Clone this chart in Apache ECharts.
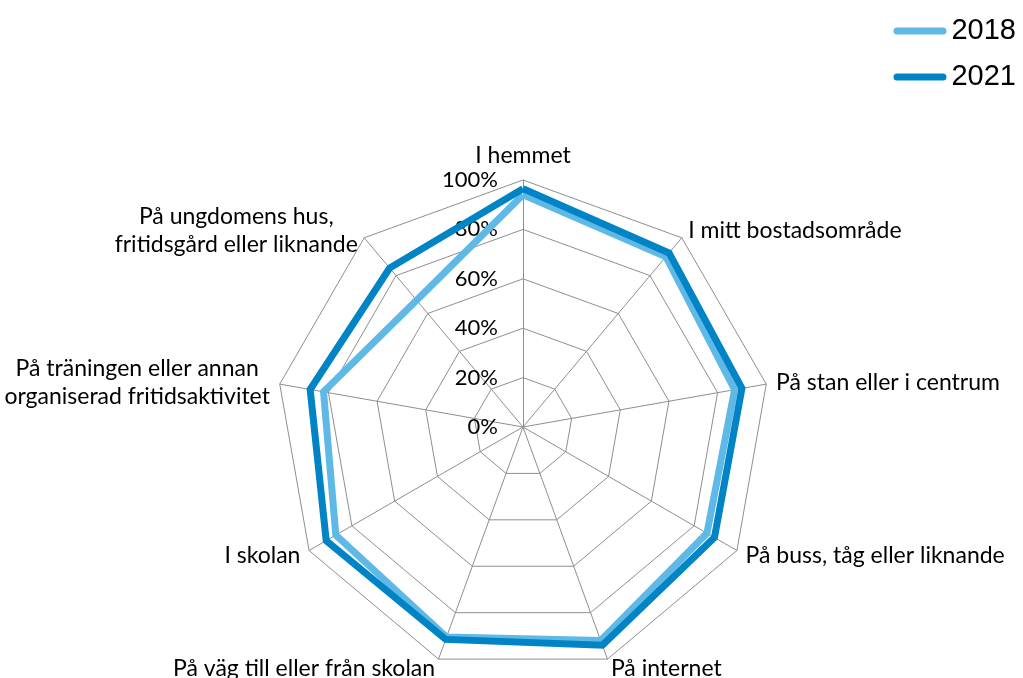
<!DOCTYPE html>
<html>
<head>
<meta charset="utf-8">
<script src="https://cdn.jsdelivr.net/npm/echarts@6/dist/echarts.min.js"></script>
<style>
  html, body { margin: 0; padding: 0; background: #ffffff; }
  #chart { width: 1023px; height: 678px; }
</style>
</head>
<body>
<div id="chart"></div>
<script>
// Places, listed clockwise starting from the top of the web
const categories = [
  'I hemmet',
  'I mitt bostadsområde',
  'På stan eller i centrum',
  'På buss, tåg eller liknande',
  'På internet',
  'På väg till eller från skolan',
  'I skolan',
  'På träningen eller annan\norganiserad fritidsaktivitet',
  'På ungdomens hus,\nfritidsgård eller liknande'
];
// Share (%) per place, same order as categories
const values2018 = [94, 90, 87, 86, 92, 90.5, 87.5, 82, 67];
const values2021 = [96.5, 92, 90, 89.5, 94, 91.5, 92, 87.5, 84];
const seriesNames = ['2018', '2021'];
const tickValues = [0, 20, 40, 60, 80, 100];

const COLORS = ['#5fb9e6', '#0084c6'];
const GRID_GRAY = '#8f8f8f';
const LABEL_FONT = 'Lato, "Open Sans", sans-serif';
const NAME_SIZE = 23;
const TICK_SIZE = 22;

// ECharts lays radar indicators out counter-clockwise; flip to run clockwise
const toRadarOrder = arr => [arr[0]].concat(arr.slice(1).reverse());

const CENTER = [523, 427];
const RADIUS = 247;

const chart = echarts.init(document.getElementById('chart'), null, { renderer: 'canvas' });

chart.setOption({
  animation: false,
  backgroundColor: '#ffffff',
  legend: {
    orient: 'vertical',
    right: 2,
    top: 11,
    itemWidth: 53,
    itemHeight: 7,
    itemGap: 16,
    icon: 'path://M3.5,0 H49.5 A3.5,3.5 0 0 1 49.5,7 H3.5 A3.5,3.5 0 0 1 3.5,0 Z',
    textStyle: {
      fontFamily: '"Liberation Sans", Arial, sans-serif',
      fontSize: 29,
      lineHeight: 30,
      color: '#000'
    },
    data: seriesNames
  },
  radar: {
    center: CENTER,
    radius: RADIUS,
    startAngle: 90,
    splitNumber: 5,
    shape: 'polygon',
    indicator: toRadarOrder(categories).map(name => ({ name: name, min: 0, max: 100 })),
    nameGap: 10,
    axisName: {
      color: '#000',
      fontFamily: LABEL_FONT,
      fontSize: NAME_SIZE,
      formatter: name => name.split('\n').map(l => '{c|' + l + '}').join('\n'),
      rich: {
        c: {
          align: 'center',
          color: '#000',
          fontFamily: LABEL_FONT,
          fontSize: NAME_SIZE,
          lineHeight: 28
        }
      }
    },
    axisLine: { lineStyle: { color: GRID_GRAY, width: 1 } },
    splitLine: { lineStyle: { color: GRID_GRAY, width: 1 } },
    splitArea: { show: false },
    axisTick: { show: false },
    axisLabel: { show: false }
  },
  // Percentage scale along the top spoke
  grid: { left: CENTER[0], top: CENTER[1] - RADIUS, width: 1, height: RADIUS },
  xAxis: { type: 'value', show: false, min: 0, max: 1 },
  yAxis: {
    type: 'value',
    min: 0,
    max: 100,
    interval: 20,
    axisLine: { show: false },
    axisTick: { show: false },
    splitLine: { show: false },
    axisLabel: {
      margin: 25,
      color: '#000',
      fontFamily: LABEL_FONT,
      fontSize: TICK_SIZE,
      formatter: v => tickValues.includes(v) ? v + '%' : ''
    }
  },
  series: [{
    type: 'radar',
    symbol: 'none',
    data: [
      {
        name: seriesNames[0],
        value: toRadarOrder(values2018),
        lineStyle: { color: COLORS[0], width: 7, join: 'miter' },
        itemStyle: { color: COLORS[0] }
      },
      {
        name: seriesNames[1],
        value: toRadarOrder(values2021),
        lineStyle: { color: COLORS[1], width: 7, join: 'miter' },
        itemStyle: { color: COLORS[1] }
      }
    ]
  }]
});
</script>
</body>
</html>
